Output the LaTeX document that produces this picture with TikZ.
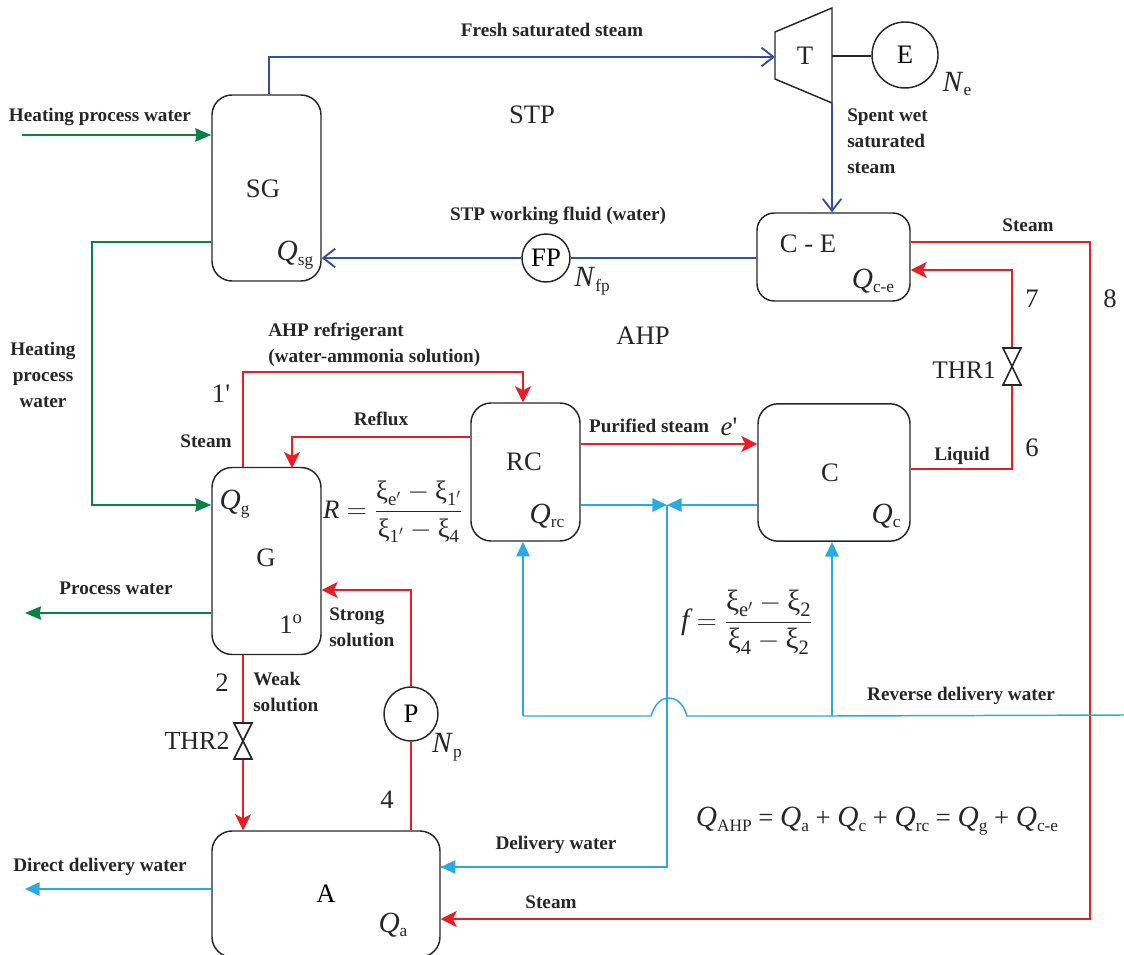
\documentclass[tikz,border=0pt]{standalone}
\usepackage{amsmath}
\usepackage{fontspec}
\setmainfont{Liberation Serif}
\usepackage{xcolor}
\usepackage{tikz}
\usetikzlibrary{arrows.meta,positioning,calc,shapes.geometric}
\definecolor{stpblue}{HTML}{2F50A5}
\definecolor{hotred}{HTML}{ED1C24}
\definecolor{heatgreen}{HTML}{0B8043}
\definecolor{coolcyan}{HTML}{29ABE2}
\newcommand{\qlab}[1]{{\fontsize{22}{24}\selectfont\textit{Q}}\raisebox{-3.5pt}{\fontsize{13}{14}\selectfont #1}}
\newcommand{\nlab}[1]{{\fontsize{22}{24}\selectfont\textit{N}}\raisebox{-3.5pt}{\fontsize{13}{14}\selectfont #1}}
\newcommand{\xilab}{\text{ξ}}

\begin{document}
\begin{tikzpicture}[
    x=0.75pt, y=-0.75pt,
    box/.style={rectangle, draw=black!85, line width=1.1pt, rounded corners=15pt, align=center, inner sep=0pt, font=\fontsize{20}{24}\selectfont},
    unit/.style={circle, draw=black!85, fill=white, line width=1.1pt, inner sep=0pt, font=\fontsize{20}{24}\selectfont},
    big/.style={font=\fontsize{20}{24}\selectfont, inner sep=0pt, text=black!85},
    txt/.style={font=\fontsize{14.4}{19.5}\selectfont\bfseries, align=left, inner sep=0pt, text=black!85},
    valve/.style={draw=black!85, fill=white, line width=1.2pt},
    blueflow/.style={draw=stpblue, line width=1.4pt, -{Straight Barb[length=9pt,width=14pt,line width=1.4pt]}},
    blueline/.style={draw=stpblue, line width=1.4pt},
    redflow/.style={draw=hotred, line width=1.3pt, -{Stealth[length=12pt,width=12pt,inset=3pt]}},
    redline/.style={draw=hotred, line width=1.3pt},
    greenflow/.style={draw=heatgreen, line width=1.3pt, -{Stealth[length=12pt,width=10pt,inset=1pt]}},
    cyanflow/.style={draw=coolcyan, line width=1.4pt, -{Triangle[length=11pt,width=10pt]}},
    cyanline/.style={draw=coolcyan, line width=1.1pt}
]
\useasboundingbox (0,0) rectangle (1124,955);

% Steam turbine plant
\node[box, minimum width=81.75pt, minimum height=139.5pt] (sg) at (266.5,188) {};
\node[big] (sg-name) at (263,189) {SG};
\node[box, minimum width=114.75pt, minimum height=66pt, rounded corners=13pt] (ce) at (833.5,257) {};
\node[big] (ce-name) at (808,244) {C - E};
\node[unit, minimum size=49.5pt] (gen) at (905,55) {E};
\node[unit, minimum size=36pt] (fp) at (546,258) {FP};
\draw[draw=black!85, line width=1.1pt] (775,32) coordinate (t-a) -- (832,8) -- (832,103) coordinate (t-out) -- (775,79) -- cycle;
\node[big] (turb) at (805,56) {T};
\coordinate (t-in) at (775,57);
\coordinate (t-shaft) at (832,56);
\node[big] (q-sg) at (295,255) {\qlab{sg}};
\node[big] (q-ce) at (873,281) {\qlab{c-e}};
\node[big] (n-e) at (957,84) {\nlab{e}};
\node[big] (n-fp) at (592,281) {\nlab{fp}};
\node[big] (stp) at (532,115) {STP};

\draw[blueflow] (sg.north -| 269,0) |- (t-in);
\draw[draw=black!85, line width=1.1pt] (t-shaft) -- (t-shaft -| gen.west);
\draw[blueflow] (t-out) -- (t-out |- ce.north);
\draw[blueline] (ce.west |- fp.east) -- (fp.east);
\draw[blueflow] (fp.west) -- (sg.east |- fp.west);

% Absorption heat pump
\node[box, minimum width=81.75pt, minimum height=140.25pt] (gn) at (266.5,561) {};
\node[big] (gn-name) at (266,558) {G};
\node[box, minimum width=81.75pt, minimum height=103.5pt] (rc) at (525.5,472) {};
\node[big] (rc-name) at (524,462) {RC};
\node[box, minimum width=114pt, minimum height=103pt] (cd) at (834,472.5) {};
\node[big] (cd-name) at (830,473) {C};
\node[box, minimum width=171pt, minimum height=94.5pt] (ab) at (326,894) {A};
\node[unit, minimum size=40.5pt] (pu) at (411,714) {P};
\coordinate (thr1) at (1012,366.5);
\coordinate (thr2) at (243,743);
\node[big] (q-g) at (234.5,504) {\qlab{g}};
\node[big] (q-rc) at (547,516) {\qlab{rc}};
\node[big] (q-c) at (886,516) {\qlab{c}};
\node[big] (q-a) at (393,925) {\qlab{a}};
\node[big] (n-p) at (447,747) {\nlab{p}};
\node[big] (ahp) at (643,336) {AHP};

% Red lines
\draw[redflow] (gn.north -| 243,0) |- (523,372) coordinate (ref-c) -- (ref-c |- rc.north);
\draw[redflow] (rc.west |- 0,437) -| (292,468);
\draw[redflow] (rc.east |- 0,444) -- (cd.west |- 0,444);
\draw[redline] (cd.east |- 0,469) -| (thr1);
\draw[redflow] (thr1) |- (ce.east |- 0,270);
\draw[redflow] (ce.east |- 0,242) -| (1090,919) coordinate (st-c) -- (ab.east |- st-c);
\draw[redflow] (gn.south -| 243,0) -- (thr2) -- (thr2 |- ab.north);
\draw[redline] (ab.north -| pu.south) -- (pu.south);
\draw[redflow] (pu.north) |- (gn.east |- 0,590);
\draw[valve] (1003,348) -- ++(18,0) -- ++(-18,37) -- ++(18,0) -- cycle;
\draw[valve] (234,723) -- ++(18,0) -- ++(-18,36) -- ++(18,0) -- cycle;

% Green lines
\coordinate (hw-in) at (22,135);
\coordinate (pw-out) at (25,613);
\draw[greenflow] (hw-in) -- (sg.west |- hw-in);
\draw[greenflow] (sg.west |- 0,242) -| (92,505) coordinate (hw-c) -- (gn.west |- hw-c);
\draw[greenflow] (gn.west |- pw-out) -- (pw-out);

% Cyan lines
\coordinate (jn) at (667,505);
\coordinate (rw-in) at (1124,715);
\coordinate (rw-c) at (832,716);
\coordinate (bump-r) at (687,716);
\coordinate (bump-l) at (651,716);
\coordinate (dw-out) at (25,889);
\draw[cyanflow] (rc.east |- jn) -- (jn);
\draw[cyanflow] (cd.west |- jn) -- (jn);
\draw[cyanline] (jn) |- (ab.east |- 0,867) coordinate (dw-c);
\draw[cyanflow] (667,867) -- (dw-c);
\draw[cyanline] (rw-in) -- (rw-c) -- (bump-r) .. controls (683,702) and (675,698) .. (669,698) .. controls (662,698) and (655,703) .. (bump-l) -- (523,716) coordinate (rw-l);
\draw[cyanflow] (rw-l) -- (rw-l |- rc.south);
\draw[cyanflow] (rw-c) -- (rw-c |- cd.south);
\draw[cyanflow] (ab.west |- dw-out) -- (dw-out);

% Labels
\node[txt] (l-fresh) at (552,30) {Fresh saturated steam};
\node[txt] (l-heat1) at (100,117) {Heating process water};
\node[txt, anchor=west] (l-spent) at (847,141) {Spent wet\\saturated\\steam};
\node[txt] (l-wf) at (558,216) {STP working fluid (water)};
\node[txt] (l-st8) at (1028,225) {Steam};
\node[txt] (l-liq) at (962,456) {Liquid};
\node[txt, anchor=west] (l-ref) at (268,345) {AHP refrigerant\\(water-ammonia solution)};
\node[txt, align=center] (l-heat2) at (43,375) {Heating\\process\\water};
\node[txt] (l-st1) at (206,441) {Steam};
\node[txt] (l-reflux) at (381,419) {Reflux};
\node[txt] (l-pure) at (649,426) {Purified steam};
\node[txt] (l-pw) at (116,588) {Process water};
\node[txt, anchor=west] (l-strong) at (329,627) {Strong\\solution};
\node[txt, anchor=west] (l-weak) at (253,692) {Weak\\solution};
\node[txt] (l-rev) at (961,696) {Reverse delivery water};
\node[txt] (l-del) at (556,845) {Delivery water};
\node[txt] (l-direct) at (100,867) {Direct delivery water};
\node[txt] (l-st2) at (551,902) {Steam};

% Points and formulas
\node[big] (p7) at (1032,299) {7};
\node[big] (p8) at (1110,299) {8};
\node[big] (p6) at (1032,448) {6};
\node[big, font=\fontsize{19}{24}\selectfont] (thr1-name) at (964,370) {THR1};
\node[big, font=\fontsize{19.5}{24}\selectfont] (thr2-name) at (197,741) {THR2};
\node[big] (p1p) at (221,394) {1\textquotesingle};
\node[big] (pe) at (729,427) {\textit{e}\textquotesingle};
\node[big] (p1o) at (291,624) {1\textsuperscript{o}};
\node[big] (p2) at (222,683) {2};
\node[big] (p4) at (387,800) {4};
\node[big] (f-r) at (393,512) {$\textit{R}=\dfrac{\xilab_{\text{e}'}-\xilab_{\text{1}'}}{\xilab_{\text{1}'}-\xilab_{\text{4}}}$};
\node[big, font=\fontsize{22}{26}\selectfont] (f-f) at (747,622) {$\textit{f}=\dfrac{\xilab_{\text{e}'}-\xilab_{\text{2}}}{\xilab_{\text{4}}-\xilab_{\text{2}}}$};
\node[big] (f-q) at (877,821) {\qlab{AHP} = \qlab{a} + \qlab{c} + \qlab{rc} = \qlab{g} + \qlab{c-e}};

\end{tikzpicture}
\end{document}
